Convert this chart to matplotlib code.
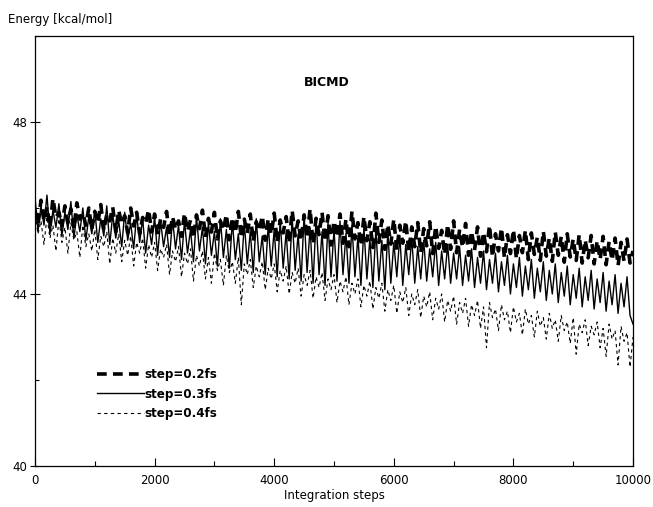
"""BICMD energy drift for three integration step sizes."""

import matplotlib

matplotlib.use("Agg")
import matplotlib.pyplot as plt  # noqa: E402
import numpy as np  # noqa: E402
from matplotlib.ticker import MultipleLocator  # noqa: E402

# integration step, sampled every 50 steps
steps = np.arange(0, 10001, 50)

energy_02fs = [
    45.95, 45.62, 46.18, 45.70, 46.02, 45.55, 46.22, 45.78, 45.90, 45.58,
    46.05, 45.66, 45.98, 45.52, 46.12, 45.74, 45.88, 45.60, 46.00, 45.50,
    45.92, 45.65, 46.08, 45.48, 45.85, 45.70, 46.02, 45.45, 45.95, 45.62,
    45.82, 45.42, 46.00, 45.58, 45.90, 45.40, 45.78, 45.64, 45.96, 45.44,
    45.86, 45.38, 45.74, 45.55, 45.92, 45.36, 45.80, 45.50, 45.70, 45.34,
    45.88, 45.46, 45.72, 45.30, 45.84, 45.52, 45.95, 45.32, 45.76, 45.44,
    45.90, 45.28, 45.70, 45.48, 45.85, 45.26, 45.78, 45.42, 45.92, 45.30,
    45.74, 45.40, 45.86, 45.22, 45.68, 45.46, 45.82, 45.25, 45.75, 45.38,
    45.88, 45.20, 45.72, 45.42, 45.80, 45.18, 45.94, 45.35, 45.70, 45.24,
    45.84, 45.30, 45.98, 45.16, 45.76, 45.38, 45.90, 45.22, 45.82, 45.14,
    45.70, 45.32, 45.86, 45.18, 45.74, 45.10, 45.92, 45.28, 45.66, 45.12,
    45.80, 45.24, 45.68, 45.08, 45.88, 45.20, 45.72, 45.04, 45.62, 45.16,
    45.74, 45.02, 45.60, 45.18, 45.70, 44.98, 45.56, 45.10, 45.66, 44.96,
    45.52, 45.12, 45.68, 44.94, 45.58, 45.06, 45.48, 44.92, 45.62, 45.04,
    45.70, 44.96, 45.50, 45.08, 45.64, 44.90, 45.46, 45.02, 45.56, 44.88,
    45.44, 44.98, 45.60, 44.86, 45.40, 45.00, 45.54, 44.84, 45.38, 44.94,
    45.50, 44.82, 45.36, 44.96, 45.48, 44.80, 45.42, 44.92, 45.32, 44.78,
    45.46, 44.88, 45.30, 44.76, 45.44, 44.90, 45.34, 44.74, 45.40, 44.86,
    45.28, 44.78, 45.38, 44.72, 45.26, 44.84, 45.36, 44.70, 45.24, 44.80,
    45.34, 44.68, 45.22, 44.78, 45.30, 44.66, 45.20, 44.76, 45.28, 44.72,
    45.00,
]

energy_03fs = [
    46.25, 45.45, 46.05, 45.60, 46.30, 45.40, 45.95, 45.55, 46.10, 45.35,
    45.90, 45.50, 46.15, 45.30, 45.85, 45.45, 46.00, 45.25, 45.80, 45.40,
    45.95, 45.20, 45.75, 45.35, 46.05, 45.15, 45.85, 45.30, 45.70, 45.10,
    45.90, 45.25, 45.65, 45.05, 45.85, 45.20, 45.75, 44.95, 45.60, 45.15,
    45.80, 44.90, 45.70, 45.10, 45.55, 44.85, 45.75, 45.05, 45.60, 44.80,
    45.70, 44.95, 45.50, 44.75, 45.80, 45.00, 45.55, 44.70, 45.65, 44.90,
    45.45, 44.65, 45.75, 44.85, 45.50, 44.60, 45.70, 44.80, 45.40, 44.55,
    45.65, 44.70, 45.45, 44.50, 45.75, 44.75, 45.35, 44.45, 45.60, 44.65,
    45.50, 44.40, 45.70, 44.60, 45.45, 44.35, 45.80, 44.55, 45.40, 44.30,
    45.85, 44.50, 45.55, 44.25, 45.75, 44.45, 45.45, 44.20, 45.65, 44.40,
    45.50, 44.30, 45.70, 44.45, 45.40, 44.25, 45.60, 44.40, 45.35, 44.20,
    45.55, 44.35, 45.30, 44.15, 45.50, 44.30, 45.25, 44.10, 45.45, 44.25,
    45.20, 44.40, 45.35, 44.20, 45.15, 44.45, 45.30, 44.25, 45.10, 44.35,
    45.25, 44.30, 45.05, 44.40, 45.20, 44.20, 45.00, 44.35, 45.15, 44.25,
    44.95, 44.35, 45.10, 44.20, 44.90, 44.30, 45.05, 44.15, 44.85, 44.25,
    45.00, 44.10, 44.80, 44.25, 44.95, 44.05, 44.75, 44.20, 44.90, 44.00,
    44.70, 44.15, 44.85, 43.95, 44.65, 44.10, 44.80, 43.90, 44.60, 44.05,
    44.75, 43.85, 44.55, 44.00, 44.70, 43.80, 44.50, 43.95, 44.65, 43.75,
    44.45, 43.90, 44.60, 43.70, 44.40, 43.85, 44.55, 43.65, 44.35, 43.80,
    44.50, 43.60, 44.30, 43.75, 44.45, 43.55, 44.25, 43.70, 44.40, 43.50,
    43.30,
]

energy_04fs = [
    45.85, 45.40, 45.70, 45.15, 45.80, 45.30, 45.60, 45.00, 45.75, 45.20,
    45.55, 44.95, 45.65, 45.25, 45.45, 44.85, 45.60, 45.10, 45.40, 45.00,
    45.50, 44.80, 45.35, 45.10, 45.45, 44.70, 45.30, 44.95, 45.40, 44.75,
    45.25, 44.90, 45.35, 44.65, 45.20, 44.95, 45.30, 44.60, 45.15, 44.85,
    45.20, 44.55, 45.05, 44.85, 45.15, 44.45, 45.00, 44.75, 45.10, 44.40,
    44.95, 44.70, 45.05, 44.30, 44.90, 44.65, 45.00, 44.35, 44.85, 44.25,
    44.95, 44.55, 44.80, 44.20, 44.90, 44.50, 44.75, 44.25, 44.85, 43.75,
    44.70, 44.45, 44.80, 44.15, 44.65, 44.40, 44.75, 44.10, 44.60, 44.35,
    44.70, 44.05, 44.55, 44.30, 44.65, 44.00, 44.50, 44.25, 44.60, 43.95,
    44.45, 44.20, 44.55, 43.90, 44.40, 44.15, 44.50, 43.85, 44.35, 44.10,
    44.45, 43.80, 44.30, 44.05, 44.40, 43.75, 44.25, 44.00, 44.35, 43.70,
    44.20, 43.95, 44.30, 43.65, 44.15, 43.90, 44.25, 43.60, 44.10, 43.85,
    44.20, 43.55, 44.05, 43.80, 44.15, 43.50, 44.00, 43.75, 44.10, 43.45,
    43.95, 43.70, 44.05, 43.40, 43.90, 43.65, 44.00, 43.35, 43.85, 43.60,
    43.95, 43.30, 43.80, 43.55, 43.90, 43.25, 43.75, 43.50, 43.85, 43.20,
    43.70, 42.75, 43.80, 43.45, 43.65, 43.15, 43.75, 43.40, 43.60, 43.10,
    43.70, 43.35, 43.55, 43.05, 43.65, 43.30, 43.50, 43.00, 43.60, 43.25,
    43.45, 42.95, 43.55, 43.20, 43.40, 42.90, 43.50, 43.15, 43.35, 42.85,
    43.45, 42.60, 43.30, 43.10, 43.40, 42.80, 43.25, 43.05, 43.35, 42.75,
    43.20, 42.55, 43.30, 42.95, 43.15, 42.35, 43.25, 42.90, 43.10, 42.30,
    43.00,
]

labels = ["step=0.2fs", "step=0.3fs", "step=0.4fs"]

plt.rcParams["font.family"] = ["DejaVu Sans"]
plt.rcParams["lines.scale_dashes"] = False

fig = plt.figure(figsize=(6.53, 5.07), dpi=100)
ax = fig.add_axes([0.0536, 0.0809, 0.9158, 0.8481])

ax.plot(steps, energy_02fs, color="black", lw=2.6, dashes=(7, 4.5),
        label=labels[0])
ax.plot(steps, energy_03fs, color="black", lw=1.0, label=labels[1])
ax.plot(steps, energy_04fs, color="black", lw=0.8, dashes=(2.4, 2.4),
        label=labels[2])

ax.set_xlim(0, 10000)
ax.set_ylim(40, 50)
ax.xaxis.set_major_locator(MultipleLocator(2000))
ax.xaxis.set_minor_locator(MultipleLocator(1000))
ax.set_yticks([40, 44, 48])
ax.set_yticks([42, 46, 50], minor=True)
ax.tick_params(axis="x", which="major", direction="in", length=6, width=0.8,
               labelsize=8.5, pad=6)
ax.tick_params(axis="x", which="minor", direction="in", length=3.5, width=0.8)
ax.tick_params(axis="y", which="major", direction="inout", length=7, width=0.8,
               labelsize=8.5, pad=2)
ax.tick_params(axis="y", which="minor", direction="in", length=3, width=0.8)
for s in ax.spines.values():
    s.set_linewidth(0.9)

ax.set_xlabel("Integration steps", fontsize=8.5, labelpad=1)
fig.text(0.012, 0.962, "Energy [kcal/mol]", fontsize=8.5, ha="left", va="center")
ax.text(0.488, 0.893, "BICMD", transform=ax.transAxes, fontsize=9,
        fontweight="bold", ha="center", va="center")

ax.legend(loc="center left", bbox_to_anchor=(0.085, 0.167), frameon=False,
          handlelength=4.0, handletextpad=0.0, labelspacing=0.55,
          prop={"weight": "bold", "size": 8.6})

fig.savefig("out.png", dpi=100)
plt.close(fig)
